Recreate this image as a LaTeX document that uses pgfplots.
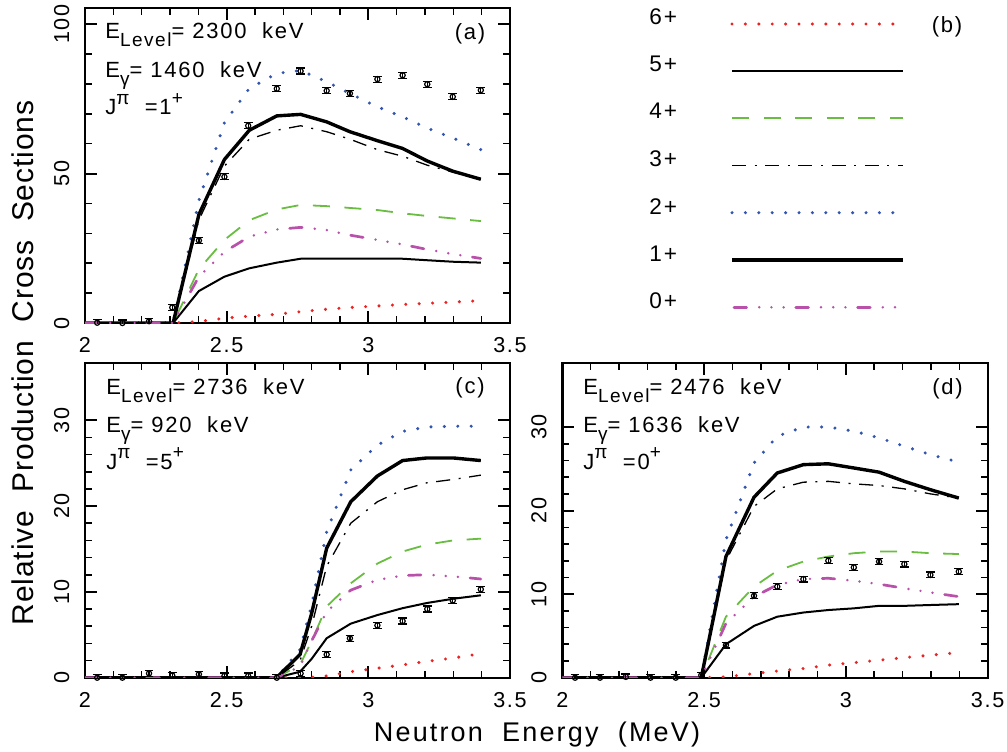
\documentclass[border=0pt]{standalone}
\usepackage{fontspec}
\setmainfont[LetterSpace=8]{Liberation Sans}
\usepackage{pgfplots}
\usepackage{pgfplotstable}
\pgfplotsset{compat=1.18}

\definecolor{cred}{RGB}{235,35,35}
\definecolor{cblue}{RGB}{50,85,175}
\definecolor{cgreen}{RGB}{105,190,65}
\definecolor{cmag}{RGB}{185,80,170}

\newcommand{\subx}[1]{\raisebox{-4pt}{\fontsize{9.5}{10}\selectfont #1}}
\newcommand{\supx}[1]{\raisebox{5.3pt}{\fontsize{9.5}{10}\selectfont #1}}

% calculated curves, one column per final spin
\pgfplotstableread{
x     s6  s5   s4   s3   s2   s1   s0
2.000 0   0    0    0    0    0    0
2.311 0   0    0    0    0    0    0
2.402 0.5 10.7 18.0 34.5 41.0 36.3 15.5
2.492 1.6 15.5 27.8 52.5 67.0 54.7 23.8
2.580 2.3 18.3 34.4 61.5 78.5 64.5 28.9
2.677 2.9 20.2 38.0 64.5 83.5 69.3 31.3
2.761 3.8 21.5 39.5 66.0 84.5 69.8 32.0
2.853 4.6 21.5 39.1 64.0 80.7 67.3 31.1
2.935 5.2 21.5 38.5 61.5 76.8 64.0 29.4
3.032 5.7 21.5 37.8 58.0 72.3 61.0 27.8
3.121 6.2 21.5 36.7 55.8 69.0 58.4 26.3
3.208 6.6 21.0 35.8 52.8 65.2 54.2 24.6
3.298 7.0 20.5 35.0 50.5 61.9 50.8 23.1
3.397 7.5 20.2 34.1 48.1 58.0 48.1 21.6
}\curvesA
\pgfplotstableread{
x     y    e
2.043 0.1  1.0
2.132 0.0  1.0
2.226 0.6  1.0
2.308 5.2  1.0
2.402 27.6 1.0
2.492 48.9 1.0
2.576 66.0 1.0
2.677 78.4 1.0
2.761 84.3 1.0
2.853 77.7 1.0
2.935 76.8 1.0
3.032 81.6 1.0
3.121 82.9 1.0
3.208 79.9 1.0
3.298 75.7 1.0
3.397 77.9 1.0
}\dataA

\pgfplotstableread{
x     s6   s5  s4   s3   s2   s1   s0
2.000 0    0   0    0    0    0    0
2.676 0    0   0    0    0    0    0
2.759 0    0.7 1.5  2.0  3.3  2.7  1.3
2.800 0.05 2.2 4.3  6.0  8.5  7.5  4.3
2.853 0.2  4.6 8.3  13.0 17.0 15.1 7.7
2.938 0.7  6.3 11.0 18.0 24.2 20.5 10.2
3.032 1.1  7.3 13.3 20.5 27.1 23.5 11.4
3.121 1.5  8.1 14.7 21.9 28.7 25.3 11.9
3.206 1.9  8.7 15.5 22.7 29.2 25.6 12.0
3.300 2.3  9.2 16.0 23.1 29.3 25.6 11.8
3.397 2.8  9.6 16.2 23.6 29.3 25.3 11.5
}\curvesC
\pgfplotstableread{
x     y    e
2.043 0.0  0.35
2.132 0.0  0.35
2.226 0.5  0.35
2.308 0.25 0.35
2.402 0.4  0.35
2.492 0.2  0.35
2.576 0.2  0.35
2.677 0.0  0.35
2.761 0.5  0.35
2.853 2.7  0.35
2.935 4.6  0.35
3.032 6.1  0.35
3.121 6.6  0.35
3.208 8.0  0.35
3.298 9.0  0.35
3.397 10.3 0.35
}\dataC

\pgfplotstableread{
x     s6  s5  s4   s3   s2   s1   s0
2.000 0   0   0    0    0    0    0
2.490 0   0   0    0    0    0    0
2.577 0.1 4.0 7.3  14.0 16.5 14.5 6.5
2.676 0.5 6.2 10.9 20.5 25.7 21.6 9.7
2.758 0.8 7.3 12.8 22.6 28.9 24.5 11.1
2.850 1.1 7.8 13.9 23.4 30.0 25.5 11.8
2.938 1.5 8.1 14.5 23.5 30.0 25.6 11.9
3.028 1.8 8.3 14.9 23.2 29.5 25.1 11.6
3.117 2.1 8.6 15.1 23.0 28.7 24.6 11.2
3.206 2.4 8.6 15.1 22.6 27.7 23.5 10.7
3.298 2.7 8.7 14.9 22.0 26.7 22.5 10.2
3.398 3.0 8.8 14.8 21.5 25.8 21.5 9.7
}\curvesD
\pgfplotstableread{
x     y    e
2.045 0.0  0.35
2.133 0.0  0.35
2.224 0.1  0.35
2.311 0.0  0.35
2.400 0.0  0.35
2.490 0.3  0.35
2.577 3.9  0.35
2.676 9.8  0.35
2.758 10.9 0.35
2.850 11.8 0.35
2.938 14.0 0.35
3.028 13.2 0.35
3.117 13.9 0.35
3.206 13.6 0.35
3.298 12.3 0.35
3.398 12.7 0.35
}\dataD

\tikzset{ann/.style={anchor=base west, inner sep=0pt, font=\fontsize{11}{12}\selectfont}}

\pgfplotsset{
  s6/.style={color=cred, line width=1.7pt, line cap=round, dash pattern=on 0pt off 6.7pt},
  s5/.style={black, line width=1pt},
  s4/.style={color=cgreen, line width=0.9pt, dash pattern=on 8.5pt off 7.3pt},
  s3/.style={black, line width=0.65pt, dash pattern=on 7pt off 4.3pt on 1pt off 4.3pt},
  s2/.style={color=cblue, line width=1.7pt, line cap=round, dash pattern=on 0pt off 6.7pt},
  s1/.style={black, line width=1.7pt},
  s0/.style={color=cmag, line width=1.35pt, line cap=round,
    dash pattern=on 6.3pt off 6.3pt on 0pt off 6.1pt on 0pt off 6.1pt on 0pt off 6.1pt},
  datapt/.style={black, only marks, mark=o, mark size=1.3pt, mark options={line width=0.6pt},
    error bars/.cd, y dir=both, y explicit,
    error bar style={line width=0.6pt},
    error mark options={rotate=90, mark size=2.2pt, line width=0.6pt}},
  panel/.style={
    scale only axis, anchor=south west, width=212.5pt, height=157.5pt,
    xmin=2, xmax=3.5, xtick={2,2.5,3,3.5}, xticklabels={2,2.5,3,3.5},
    minor x tick num=4, minor y tick num=4,
    tick align=inside, major tick length=6pt, minor tick length=3.5pt,
    axis line style={line width=1.2pt},
    major tick style={line width=1pt, black},
    minor tick style={line width=0.8pt, black},
    tick label style={font=\fontsize{10.8}{12}\selectfont, inner sep=0pt},
    xticklabel style={anchor=north}, xticklabel shift=7.1pt,
    yticklabel style={rotate=90, anchor=south}, yticklabel shift=7.6pt,
    /pgf/number format/assume math mode=true,
    clip mode=individual,
  },
}

\newcommand{\curves}[1]{%
  \addplot[s6] table[x=x,y=s6]{#1};
  \addplot[s5] table[x=x,y=s5]{#1};
  \addplot[s4] table[x=x,y=s4]{#1};
  \addplot[s3] table[x=x,y=s3]{#1};
  \addplot[s2] table[x=x,y=s2]{#1};
  \addplot[s1] table[x=x,y=s1]{#1};
  \addplot[s0] table[x=x,y=s0]{#1};
}

\begin{document}
\begin{tikzpicture}
\path[use as bounding box] (0,0) rectangle (503.5pt,375.5pt);

% (a)
\begin{axis}[panel, at={(42.5pt,214pt)}, ymin=0, ymax=105.4, ytick={0,50,100}]
\curves{\curvesA}
\addplot[datapt] table[x=x,y=y,y error=e]{\dataA};
\end{axis}

% (c)
\begin{axis}[panel, at={(42.5pt,36.65pt)}, ymin=0, ymax=36.7, ytick={0,10,20,30}]
\curves{\curvesC}
\addplot[datapt] table[x=x,y=y,y error=e]{\dataC};
\end{axis}

% (d)
\begin{axis}[panel, at={(281.15pt,36.65pt)}, width=212.7pt, ymin=0, ymax=37.7, ytick={0,10,20,30}]
\curves{\curvesD}
\addplot[datapt] table[x=x,y=y,y error=e]{\dataD};
\end{axis}

% overlay in pixel units: legend (b), annotations, axis titles
\begin{axis}[at={(0pt,0pt)}, anchor=south west, scale only axis, width=503.5pt, height=375.5pt,
  xmin=0, xmax=1007, ymin=-751, ymax=0, hide axis, clip=false]
\addplot[s6] coordinates {(732,-24) (900,-24)};
\addplot[s5] coordinates {(732,-71) (903,-71)};
\addplot[s4] coordinates {(732,-118.3) (903,-118.3)};
\addplot[s3, line width=0.75pt] coordinates {(732,-165.7) (903,-165.7)};
\addplot[s2] coordinates {(732,-212.7) (900,-212.7)};
\addplot[s1] coordinates {(732,-260) (903,-260)};
\addplot[s0] coordinates {(734,-307.3) (898,-307.3)};
\node[ann, font=\fontsize{11.3}{12}\selectfont] at (axis cs:649,-25) {6+};
\node[ann, font=\fontsize{11.3}{12}\selectfont] at (axis cs:649,-71.7) {5+};
\node[ann, font=\fontsize{11.3}{12}\selectfont] at (axis cs:649,-119) {4+};
\node[ann, font=\fontsize{11.3}{12}\selectfont] at (axis cs:649,-166.7) {3+};
\node[ann, font=\fontsize{11.3}{12}\selectfont] at (axis cs:649,-214.3) {2+};
\node[ann, font=\fontsize{11.3}{12}\selectfont] at (axis cs:649,-261.7) {1+};
\node[ann, font=\fontsize{11.3}{12}\selectfont] at (axis cs:649,-309) {0+};
\node[ann, anchor=base] at (axis cs:947,-33) {(b)};

\node[ann] at (axis cs:105,-39) {E\subx{Level}=~2300~~keV};
\node[ann] at (axis cs:105,-78) {E\subx{γ}=~1460~~keV};
\node[ann] at (axis cs:105,-115) {J\supx{π}\hspace{0.7em}=1\supx{+}};
\node[ann, anchor=base] at (axis cs:470,-39.3) {(a)};

\node[ann] at (axis cs:106,-394) {E\subx{Level}=~2736~~keV};
\node[ann] at (axis cs:106,-432.7) {E\subx{γ}=~920~~keV};
\node[ann] at (axis cs:106,-469.3) {J\supx{π}\hspace{0.7em}=5\supx{+}};
\node[ann, anchor=base] at (axis cs:470,-393.3) {(c)};

\node[ann] at (axis cs:583,-394) {E\subx{Level}=~2476~~keV};
\node[ann] at (axis cs:583,-432.7) {E\subx{γ}=~1636~~keV};
\node[ann] at (axis cs:583,-469.3) {J\supx{π}\hspace{0.7em}=0\supx{+}};
\node[ann, anchor=base] at (axis cs:947.5,-394) {(d)};

\node[inner sep=0pt, anchor=base, rotate=90, font=\fontsize{15}{17}\selectfont\addfontfeature{LetterSpace=3}]
  at (axis cs:33,-363) {Relative~~Production~~Cross~~Sections};
\node[inner sep=0pt, anchor=base, font=\fontsize{13.5}{15}\selectfont]
  at (axis cs:537,-741.7) {Neutron~~Energy~~(MeV)};
\end{axis}
\end{tikzpicture}
\end{document}
